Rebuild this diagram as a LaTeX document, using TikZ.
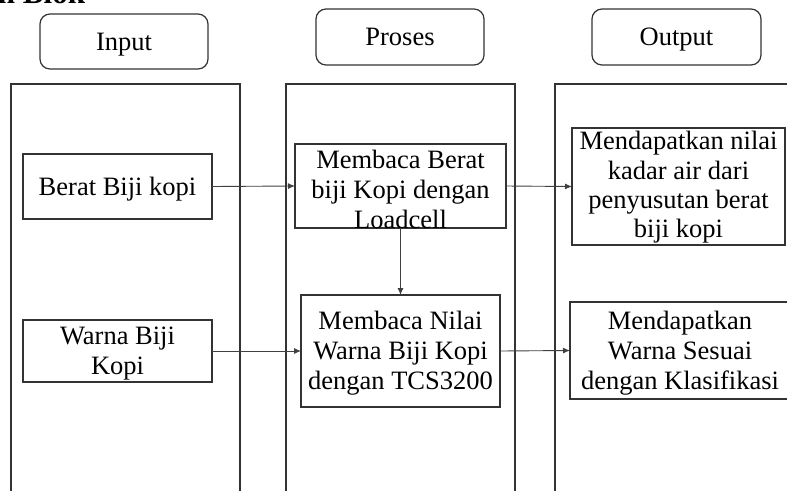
\documentclass[tikz,border=0pt]{standalone}
\usepackage{fontspec}
\setmainfont{Liberation Serif}
\usetikzlibrary{arrows.meta}

\begin{document}
\begin{tikzpicture}[x=1pt,y=-1pt,
  every node/.style={font=\fontsize{26.5}{30}\selectfont, inner sep=0pt, outer sep=0pt},
  header/.style={draw=black!80, line width=1.2pt, rounded corners=10pt,
    text height=17pt, text depth=0pt},
  column/.style={draw=black!80, line width=1.3pt},
  blockbox/.style={draw=black!80, line width=1.3pt},
  blocktext/.style={align=center},
  flow/.style={draw=black!75, line width=0.9pt, -{Latex[length=7pt,width=6pt]}}
]
\useasboundingbox (0,0) rectangle (787,490);

% section title, partly above the page edge
\node[font=\fontsize{31}{36}\selectfont\bfseries, anchor=base west] (title) at (-2,3.5) {n Blok};

% column headers
\node[header, minimum width=168pt, minimum height=55pt] (hin)  at (124,41.5) {Input};
\node[header, minimum width=168pt, minimum height=56pt] (hpro) at (400,37)   {Proses};
\node[header, minimum width=169pt, minimum height=56pt] (hout) at (676.5,37) {Output};

% column frames (open at the bottom)
\draw[column] (11,496) -- (11,84) -- (240,84) -- (240,496);
\draw[column] (286,496) -- (286,84) -- (515,84) -- (515,496);
\draw[column] (555,496) -- (555,84) -- (795,84);

% input blocks
\node[blockbox, minimum width=189pt, minimum height=65pt] (berat) at (117.5,186.5) {};
\node[blocktext] (beratT) at ([yshift=-3pt]berat.center) {Berat Biji kopi};
\node[blockbox, minimum width=189pt, minimum height=62pt] (warna) at (117.5,351) {};
\node[blocktext] (warnaT) at ([yshift=-3pt]warna.center) {Warna Biji\\Kopi};

% process blocks
\node[blockbox, minimum width=211pt, minimum height=84pt] (bacaberat) at (400.5,186) {};
\node[blocktext] (bacaberatT) at ([yshift=-3pt]bacaberat.center)
  {Membaca Berat\\biji Kopi dengan\\Loadcell};
\node[blockbox, minimum width=199pt, minimum height=112pt] (bacawarna) at (400.5,351) {};
\node[blocktext] (bacawarnaT) at ([yshift=-2pt]bacawarna.center)
  {Membaca Nilai\\Warna Biji Kopi\\dengan TCS3200};

% output blocks
\node[blockbox, minimum width=213pt, minimum height=117pt] (kadar) at (678.5,186.5) {};
\node[blocktext, font=\fontsize{26.5}{29.3}\selectfont] (kadarT) at ([yshift=-1pt]kadar.center)
  {Mendapatkan nilai\\kadar air dari\\penyusutan berat\\biji kopi};
\node[blockbox, minimum width=220pt, minimum height=97pt] (klas) at (680,350.5) {};
\node[blocktext] (klasT) at ([yshift=-3pt]klas.center)
  {Mendapatkan\\Warna Sesuai\\dengan Klasifikasi};

% signal flow
\draw[flow] (berat.east) -- (bacaberat.west);
\draw[flow] (bacaberat.east) -- (kadar.west);
\draw[flow] (bacaberat.south) -- (bacawarna.north);
\draw[flow] (warna.east) -- (bacawarna.west);
\draw[flow] (bacawarna.east) -- (klas.west);
\end{tikzpicture}
\end{document}
